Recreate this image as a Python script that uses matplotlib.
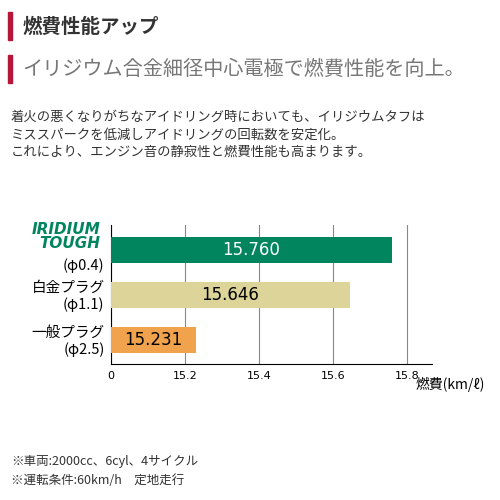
import matplotlib
matplotlib.use("Agg")
import matplotlib.pyplot as plt

plt.rcParams["font.family"] = ["Noto Sans CJK JP", "DejaVu Sans"]

labels = ["一般プラグ\n(φ2.5)", "白金プラグ\n(φ1.1)", "IRIDIUM TOUGH\n(φ0.4)"]
values = [15.231, 15.646, 15.760]
colors = ["#F0A24C", "#DDD49A", "#00855F"]
text_colors = ["black", "black", "white"]
ticks = [15.0, 15.2, 15.4, 15.6, 15.8]
tick_labels = ["0", "15.2", "15.4", "15.6", "15.8"]
base = 15.0

fig = plt.figure(figsize=(5, 5), dpi=100)
ax = fig.add_axes([0.222, 0.272, 0.642, 0.278])

for i, v in enumerate(values):
    ax.barh(i, v - base, left=base, height=0.58, color=colors[i], zorder=3)
    ax.text(base + (v - base) / 2, i, "%.3f" % v, ha="center", va="center",
            fontsize=12, color=text_colors[i], family="DejaVu Sans", zorder=4)

ax.set_xlim(base, 15.868)
ax.set_ylim(-0.53, 2.56)
ax.set_xticks(ticks)
ax.set_xticklabels(tick_labels, fontsize=8, family="DejaVu Sans")
ax.set_yticks([])
ax.grid(axis="x", color="#888888", linewidth=0.8, zorder=0)
for s in ["top", "right"]:
    ax.spines[s].set_visible(False)
ax.tick_params(axis="x", length=0, pad=5)

# category labels
yt = ax.get_yaxis_transform()
ax.text(-0.02, 0.17, "一般プラグ", transform=yt, ha="right", va="center", fontsize=10.5)
ax.text(-0.02, -0.2, "(φ2.5)", transform=yt, ha="right", va="center", fontsize=10.5)
ax.text(-0.02, 1.17, "白金プラグ", transform=yt, ha="right", va="center", fontsize=10.5)
ax.text(-0.02, 0.8, "(φ1.1)", transform=yt, ha="right", va="center", fontsize=10.5)
ax.text(-0.02, 1.65, "(φ0.4)", transform=yt, ha="right", va="center", fontsize=10.5)
fig.text(0.2, 0.527, "IRIDIUM\nTOUGH", ha="right", va="center", fontsize=11,
         color="#00855F", weight="heavy", style="italic", family="DejaVu Sans",
         linespacing=0.9)

fig.text(0.97, 0.247, "燃費(km/ℓ)", ha="right", va="top", fontsize=10)

# header
fig.patches.append(plt.Rectangle((0.016, 0.92), 0.007, 0.055, color="#B5163A", transform=fig.transFigure))
fig.text(0.045, 0.946, "燃費性能アップ", fontsize=14, va="center", color="#333333", weight="bold")
fig.patches.append(plt.Rectangle((0.016, 0.835), 0.007, 0.055, color="#B5163A", transform=fig.transFigure))
fig.text(0.045, 0.861, "イリジウム合金細径中心電極で燃費性能を向上。", fontsize=14.5, va="center", color="#777777")
fig.text(0.022, 0.78, "着火の悪くなりがちなアイドリング時においても、イリジウムタフは\n"
         "ミススパークを低減しアイドリングの回転数を安定化。\n"
         "これにより、エンジン音の静寂性と燃費性能も高まります。",
         fontsize=9.6, va="top", color="#333333", linespacing=1.3)

fig.text(0.022, 0.077, "※車両:2000cc、6cyl、4サイクル", fontsize=9, color="#333333", va="center")
fig.text(0.022, 0.04, "※運転条件:60km/h　定地走行", fontsize=9, color="#333333", va="center")

fig.savefig("out.png", dpi=100)
